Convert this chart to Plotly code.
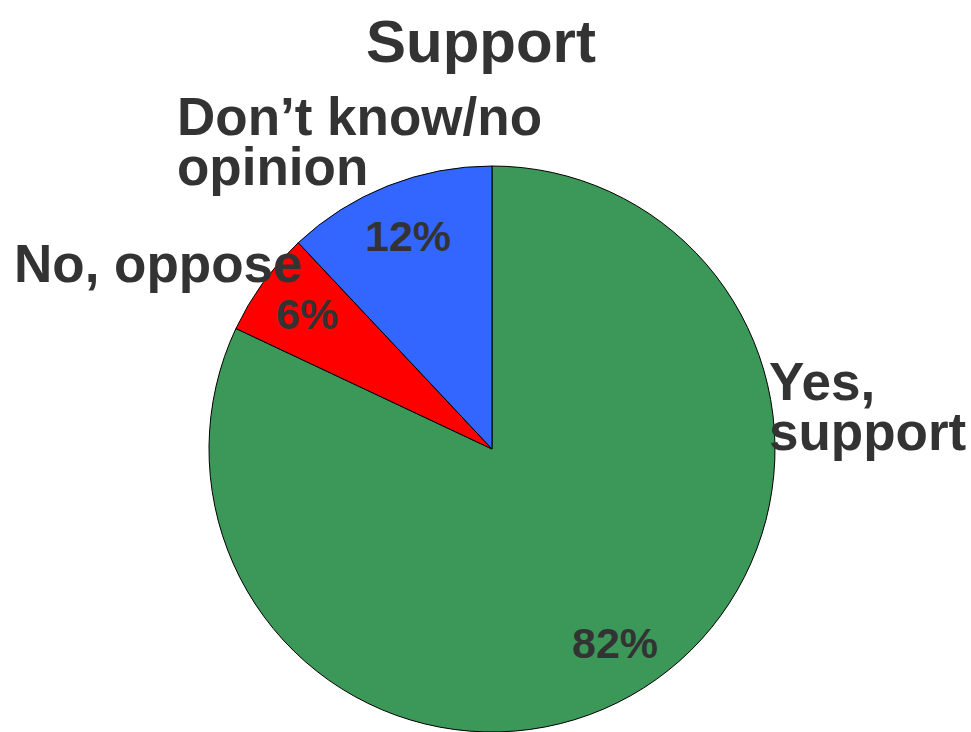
import math
import plotly.graph_objects as go

# ---- data ----
categories = ["Yes, support", "No, oppose", "Don\u2019t know/no opinion"]
values = [82, 6, 12]
colors = ["#3C9858", "#FF0000", "#3366FF"]
title_text = "Support"
# label lines shown outside the pie (one list per category)
label_lines = [["Yes,", "support"], ["No, oppose"], ["Don\u2019t know/no", "opinion"]]

# ---- layout geometry (pixels) ----
W, H = 971, 732
CX, CY, R = 492, 449, 283
FONT = "Liberation Sans, Arial, sans-serif"
TXT = "#333333"

def px(x):
    return x / W

def py(y):
    return 1 - y / H

fig = go.Figure(
    go.Pie(
        labels=categories,
        values=values,
        sort=False,
        direction="clockwise",
        rotation=0,
        marker=dict(colors=colors, line=dict(color="black", width=1)),
        textinfo="none",
        hoverinfo="label+percent",
        domain=dict(x=[px(CX - R), px(CX + R)], y=[0, (H - (CY - R)) / H]),
        showlegend=False,
    )
)

annotations = []

# percentage labels placed along each slice's mid-angle
total = sum(values)
cum = 0
for v in values:
    mid = (cum + v / 2) / total * 2 * math.pi  # clockwise from 12 o'clock
    cum += v
    rx = CX + 0.81 * R * math.sin(mid)
    ry = CY - 0.81 * R * math.cos(mid)
    annotations.append(dict(
        x=px(rx), y=py(ry), xref="paper", yref="paper",
        text=f"<b>{round(v / total * 100)}%</b>", showarrow=False,
        xanchor="center", yanchor="middle",
        font=dict(family=FONT, size=43, color=TXT),
    ))

# outside category labels (left aligned, baselines in px)
LS = 53
label_pos = [(767, [400, 450]), (12, [282]), (175, [135, 185])]
for lines, (lx, baselines) in zip(label_lines, label_pos):
    for line, b in zip(lines, baselines):
        annotations.append(dict(
            x=px(lx), y=py(b - 0.3465 * LS), xref="paper", yref="paper",
            text=f"<b>{line}</b>", showarrow=False,
            xanchor="left", yanchor="middle",
            font=dict(family=FONT, size=LS, color=TXT),
        ))

# title
annotations.append(dict(
    x=px(481), y=py(62 - 0.3465 * 60), xref="paper", yref="paper",
    text=f"<b>{title_text}</b>", showarrow=False,
    xanchor="center", yanchor="middle",
    font=dict(family=FONT, size=60, color=TXT),
))

fig.update_layout(
    width=W, height=H,
    margin=dict(l=0, r=0, t=0, b=0),
    paper_bgcolor="white", plot_bgcolor="white",
    annotations=annotations,
)

fig.write_html(
    "out.html",
    config={"displayModeBar": False},
    post_script="document.body.style.margin='0';document.body.style.padding='0';"
                "document.body.style.overflow='hidden';",
)
